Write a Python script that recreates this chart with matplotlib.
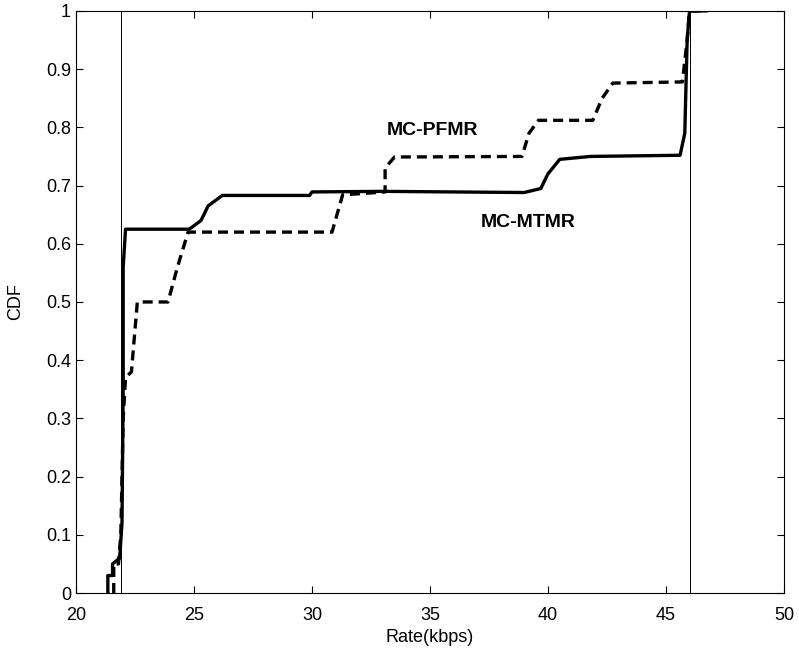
import matplotlib
matplotlib.use("Agg")
import numpy as np
import matplotlib.pyplot as plt

plt.rcParams['font.family'] = ['Liberation Sans', 'DejaVu Sans']

# MC-MTMR (solid)
mtmr_x = [21.35, 21.35, 21.55, 21.55, 21.85, 21.95, 22.0, 22.0, 22.1, 24.8, 25.3,
          25.6, 26.2, 29.9, 30.0, 33.0, 39.0, 39.7, 40.0, 40.5, 41.8, 45.6, 45.8,
          45.9, 46.0, 46.7]
mtmr_y = [0.0, 0.03, 0.03, 0.05, 0.06, 0.12, 0.35, 0.56, 0.625, 0.625, 0.64,
          0.665, 0.683, 0.683, 0.689, 0.69, 0.688, 0.695, 0.72, 0.745, 0.75, 0.752,
          0.79, 0.95, 1.0, 1.0]

# MC-PFMR (dashed)
pfmr_x = [21.6, 21.6, 21.8, 21.9, 22.0, 22.1, 22.35, 22.6, 23.9, 24.3, 24.75,
          30.85, 31.3, 33.1, 33.1, 33.5, 38.9, 39.2, 39.6, 41.9, 42.3, 42.75,
          45.7, 45.9, 46.0, 46.6]
pfmr_y = [0.0, 0.05, 0.05, 0.1, 0.3, 0.37, 0.38, 0.5, 0.5, 0.56, 0.62,
          0.62, 0.684, 0.689, 0.73, 0.749, 0.75, 0.79, 0.812, 0.812, 0.85, 0.876,
          0.878, 0.95, 1.0, 1.0]

# faint vertical lines visible in the scan
vlines = [21.9, 46.0]

xticks = [20, 25, 30, 35, 40, 45, 50]
yticks = [0, 0.1, 0.2, 0.3, 0.4, 0.5, 0.6, 0.7, 0.8, 0.9, 1]
ytick_labels = ['0', '0.1', '0.2', '0.3', '0.4', '0.5', '0.6', '0.7', '0.8', '0.9', '1']

fig = plt.figure(figsize=(7.99, 6.57), dpi=100)
ax = fig.add_axes([0.0951, 0.0974, 0.886, 0.886])

for v in vlines:
    ax.axvline(v, color='black', lw=0.7)

ax.plot(mtmr_x, mtmr_y, 'k-', lw=2.4)
ax.plot(pfmr_x, pfmr_y, 'k--', lw=2.4, dashes=(3, 1.8))

ax.text(35.1, 0.795, 'MC-PFMR', ha='center', va='center', fontsize=14, fontweight='bold')
ax.text(39.15, 0.637, 'MC-MTMR', ha='center', va='center', fontsize=14, fontweight='bold')

ax.set_xlim(20, 50)
ax.set_ylim(0, 1)
ax.set_xticks(xticks)
ax.set_yticks(yticks)
ax.set_yticklabels(ytick_labels)
ax.tick_params(direction='in', top=True, right=True, labelsize=13, length=5)
ax.tick_params(axis='x', pad=10)
ax.set_xlabel('Rate(kbps)', fontsize=13, labelpad=4)
ax.set_ylabel('CDF', fontsize=13, labelpad=16)

plt.savefig("out.png", dpi=100)
